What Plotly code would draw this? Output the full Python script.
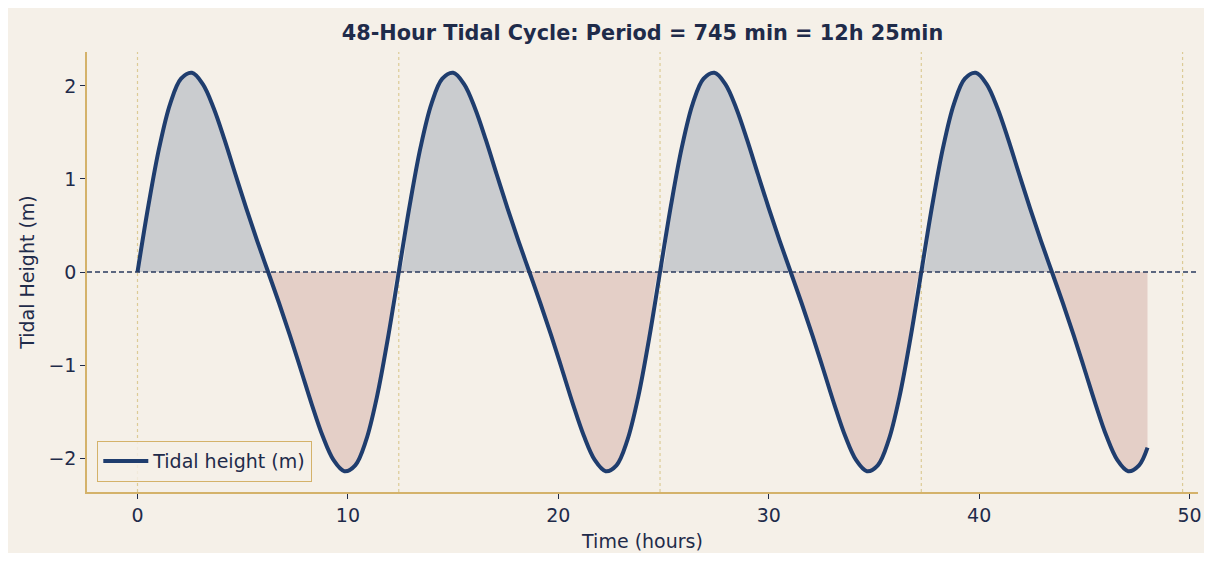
import numpy as np
import plotly.graph_objects as go

# ---- data ----
PERIOD_MIN = 745  # tidal period in minutes

time_hours = [
    0.0, 0.517, 1.035, 1.552, 2.069, 2.587, 3.104, 3.622, 4.139, 4.656, 5.174, 5.691,
    6.208, 6.726, 7.243, 7.760, 8.278, 8.795, 9.313, 9.830, 10.347, 10.865, 11.382, 11.899,
    12.417, 12.934, 13.451, 13.969, 14.486, 15.003, 15.521, 16.038, 16.556, 17.073, 17.590, 18.108,
    18.625, 19.142, 19.660, 20.177, 20.694, 21.212, 21.729, 22.247, 22.764, 23.281, 23.799, 24.316,
    24.833, 25.351, 25.868, 26.385, 26.903, 27.420, 27.938, 28.455, 28.972, 29.490, 30.007, 30.524,
    31.042, 31.559, 32.076, 32.594, 33.111, 33.628, 34.146, 34.663, 35.181, 35.698, 36.215, 36.733,
    37.250, 37.767, 38.285, 38.802, 39.319, 39.837, 40.354, 40.872, 41.389, 41.906, 42.424, 42.941,
    43.458, 43.976, 44.493, 45.010, 45.528, 46.045, 46.563, 47.080, 47.597, 48.0,
]

tidal_height = [
    0.0, 0.713, 1.339, 1.808, 2.078, 2.141, 2.020, 1.761, 1.420, 1.048, 0.681, 0.333,
    0.0, -0.333, -0.681, -1.048, -1.420, -1.761, -2.020, -2.141, -2.078, -1.808, -1.339, -0.713,
    0.0, 0.713, 1.339, 1.808, 2.078, 2.141, 2.020, 1.761, 1.420, 1.048, 0.681, 0.333,
    0.0, -0.333, -0.681, -1.048, -1.420, -1.761, -2.020, -2.141, -2.078, -1.808, -1.339, -0.713,
    0.0, 0.713, 1.339, 1.808, 2.078, 2.141, 2.020, 1.761, 1.420, 1.048, 0.681, 0.333,
    0.0, -0.333, -0.681, -1.048, -1.420, -1.761, -2.020, -2.141, -2.078, -1.808, -1.339, -0.713,
    0.0, 0.713, 1.339, 1.808, 2.078, 2.141, 2.020, 1.761, 1.420, 1.048, 0.681, 0.333,
    0.0, -0.333, -0.681, -1.048, -1.420, -1.761, -2.020, -2.141, -2.078, -1.888,
]

x_ticks = [0, 10, 20, 30, 40, 50]
y_ticks = [-2, -1, 0, 1, 2]

# ---- styling ----
BG = "#F5F0E8"
NAVY = "#1F3D6E"
GOLD = "#D4B26A"
TEXT = "#1F2B4A"
FONT = "DejaVu Sans"

t = np.array(time_hours)
h = np.array(tidal_height)
pos = np.maximum(h, 0)
neg = np.minimum(h, 0)

fig = go.Figure()

fig.add_trace(go.Scatter(x=t, y=pos, mode="lines", line=dict(width=0, shape="spline"),
                         fill="tozeroy", fillcolor="rgba(31,61,110,0.2)",
                         showlegend=False, hoverinfo="skip"))
fig.add_trace(go.Scatter(x=t, y=neg, mode="lines", line=dict(width=0, shape="spline"),
                         fill="tozeroy", fillcolor="rgba(160,75,72,0.2)",
                         showlegend=False, hoverinfo="skip"))
fig.add_trace(go.Scatter(x=t, y=h, mode="lines", name="Tidal height (m)",
                         line=dict(color=NAVY, width=4, shape="spline")))

shapes = []
# vertical dotted lines at each tidal period
k = 0
while k * PERIOD_MIN / 60 <= 50.4:
    xv = k * PERIOD_MIN / 60
    shapes.append(dict(type="line", xref="x", yref="paper", x0=xv, x1=xv, y0=0, y1=1,
                       line=dict(color="#DCCB96", width=1.2, dash="dot"), layer="below"))
    k += 1

# zero line
shapes.append(dict(type="line", xref="paper", yref="y", x0=0, x1=1, y0=0, y1=0,
                   line=dict(color="#2A3A5E", width=1.3, dash="5px,3px"), layer="above"))

W, H = 1198, 545
fig.update_layout(
    width=W, height=H,
    paper_bgcolor=BG, plot_bgcolor=BG,
    margin=dict(l=79, r=4, t=44, b=61),
    shapes=shapes,
    font=dict(family=FONT, color=TEXT, size=19),
    title=dict(text="<b>48-Hour Tidal Cycle: Period = 745 min = 12h 25min</b>",
               x=0.5, xref="paper", xanchor="center",
               y=1 - 25 / H, yanchor="middle",
               font=dict(family=FONT, size=20.8, color=TEXT)),
    xaxis=dict(range=[-2.4, 50.4], tickvals=x_ticks, showgrid=False, zeroline=False,
               showline=True, linecolor=GOLD, linewidth=1.6,
               ticks="outside", ticklen=5, tickwidth=1.2, tickcolor=TEXT,
               tickfont=dict(size=19, color=TEXT),
               title=dict(text="Time (hours)", standoff=10, font=dict(size=19, color=TEXT))),
    yaxis=dict(range=[-2.365, 2.365], tickvals=y_ticks, showgrid=False, zeroline=False,
               showline=True, linecolor=GOLD, linewidth=1.6,
               ticks="outside", ticklen=5, tickwidth=1.2, tickcolor=TEXT,
               tickfont=dict(size=19, color=TEXT),
               title=dict(text="Tidal Height (m)", standoff=9, font=dict(size=19, color=TEXT))),
    legend=dict(x=0.009, y=0.023, xanchor="left", yanchor="bottom",
                bgcolor="rgba(245,240,232,0.85)", bordercolor=GOLD, borderwidth=1.3,
                itemwidth=45, font=dict(size=19, color=TEXT)),
)

fig.write_html("out.html")
